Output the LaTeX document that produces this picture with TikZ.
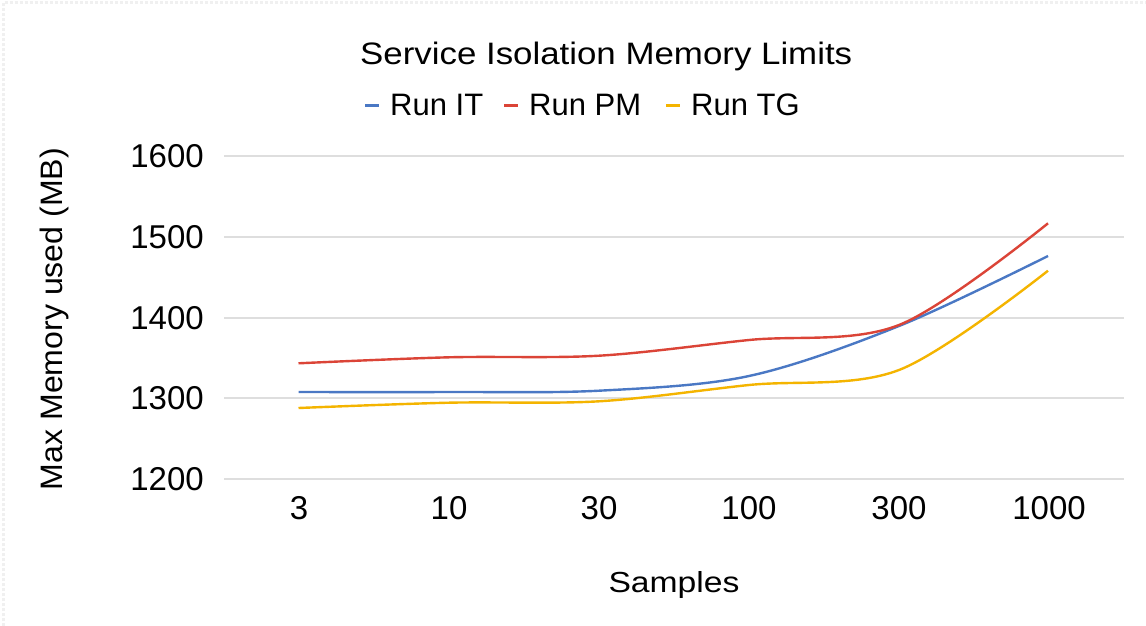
\documentclass[tikz,border=0pt]{standalone}
\usepackage{fontspec}
\setmainfont{Liberation Sans}
\definecolor{sblue}{HTML}{4A78C4}
\definecolor{sred}{HTML}{DB4437}
\definecolor{syellow}{HTML}{F4B400}
\definecolor{sgrid}{HTML}{DEDEDE}
\begin{document}
\begin{tikzpicture}[x=1pt,y=-1pt,
  gridline/.style={draw=sgrid,line width=1.6pt},
  series/.style={line width=2.4pt,line join=round},
  legdash/.style={line width=3pt},
  ticklab/.style={inner sep=0pt,font=\fontsize{33}{36}\selectfont},
  legtext/.style={inner sep=0pt,anchor=base west,font=\fontsize{31}{34}\selectfont}]
\useasboundingbox (0,0) rectangle (1146,626);
\fill[white] (0,0) rectangle (1146,626);
\draw[gray!12,line width=3pt,dotted] (3,626) -- (3,3) -- (1146,3);
% title
\node[inner sep=0pt,anchor=base west,font=\fontsize{31}{34}\selectfont] (title) at (360,64)
  {\resizebox{492pt}{\height}{Service Isolation Memory Limits}};
% legend
\coordinate (lb1) at (365,105); \coordinate (le1) at (379,105);
\coordinate (lb2) at (504,105); \coordinate (le2) at (518,105);
\coordinate (lb3) at (666,105); \coordinate (le3) at (680,105);
\draw[legdash,sblue] (lb1) -- (le1);
\draw[legdash,sred] (lb2) -- (le2);
\draw[legdash,syellow] (lb3) -- (le3);
\node[legtext] (l1) at (390,115) {Run IT};
\node[legtext] (l2) at (529,115) {Run PM};
\node[legtext] (l3) at (691,115) {Run TG};
% grid
\foreach \v/\yy in {1600/156,1500/237,1400/318,1300/398,1200/479}{
  \draw[gridline] (224,\yy) -- (1124,\yy);
  \node[ticklab,anchor=east] at (204,\yy) {\v};
}
\foreach \lab/\xx in {3/299,10/449,30/599,100/749,300/899,1000/1049}{
  \node[ticklab,anchor=center] at (\xx,508) {\lab};
}
% axis titles
\node[inner sep=0pt,anchor=base,font=\fontsize{29}{31}\selectfont] (xt) at (674,592)
  {\resizebox{131pt}{\height}{Samples}};
\node[inner sep=0pt,anchor=base,rotate=90,font=\fontsize{31}{34}\selectfont] (yt) at (62,319)
  {\resizebox{342pt}{\height}{Max Memory used (MB)}};
% series
\draw[series,syellow] plot[smooth,tension=0.55] coordinates
  {(298.5,408) (449,402.7) (599,401.3) (749,385) (899,370) (1048,270.7)};
\draw[series,sblue] plot[smooth,tension=0.55] coordinates
  {(298.5,392) (449,392) (599,390.7) (749,376) (899,326) (1048,256)};
\draw[series,sred] plot[smooth,tension=0.55] coordinates
  {(298.5,363.3) (449,357.3) (599,355.7) (749,340) (899,325) (1048,223.3)};
\end{tikzpicture}
\end{document}
